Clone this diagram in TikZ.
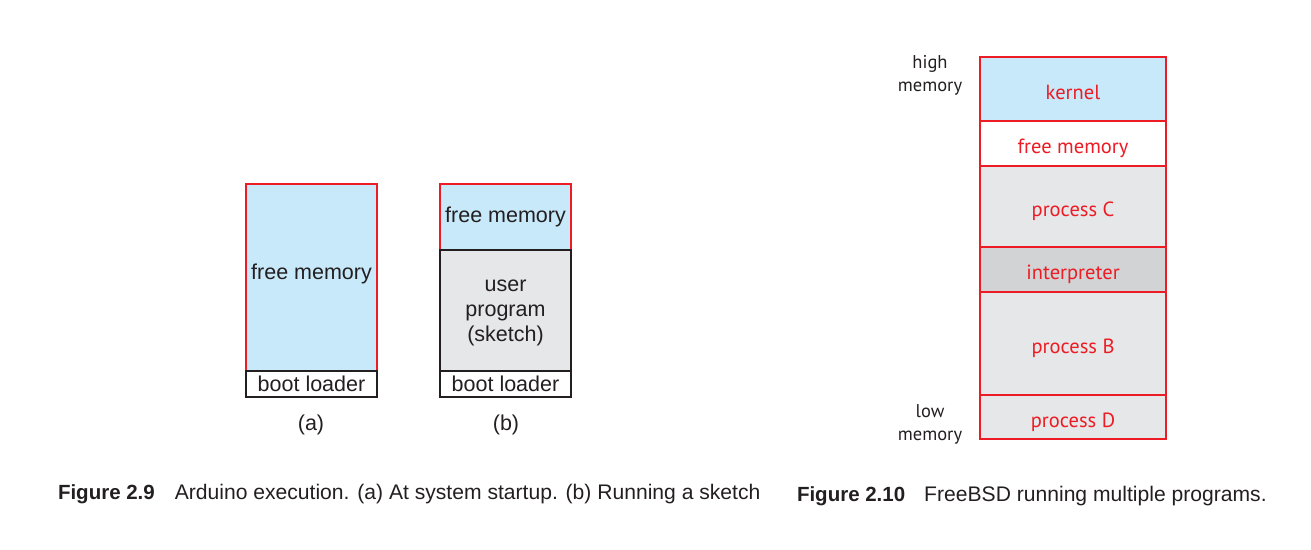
\documentclass[tikz,border=0pt]{standalone}
\usepackage{fontspec}
\setmainfont{Liberation Sans}
\newfontfamily\humfont{PT Sans}
\usetikzlibrary{positioning}
\definecolor{memblue}{HTML}{C8E9FA}
\definecolor{memgray}{HTML}{E6E7E8}
\definecolor{memdark}{HTML}{D1D3D4}
\definecolor{memred}{HTML}{ED1C24}
\definecolor{memtext}{HTML}{231F20}

\begin{document}
\begin{tikzpicture}[x=1pt, y=-1pt,
    every node/.style={inner sep=0pt, outer sep=0pt, text=memtext},
    seg/.style={draw=memtext, line width=1.3pt, fill=white, align=center,
      font=\fontsize{21.5}{25}\selectfont},
    arduino/.style={seg, minimum width=131pt},
    bsd/.style={seg, draw=memred, minimum width=186pt, text=memred,
      text height=20pt, text depth=0pt,
      font=\humfont\fontsize{20.5}{24}\selectfont},
    side/.style={align=center, font=\humfont\fontsize{18.5}{23}\selectfont},
    caption/.style={anchor=base west, font=\fontsize{21.1}{25}\selectfont}]
  \useasboundingbox (0,0) rectangle (1311,549);

  % (a) at system startup
  \node [arduino, draw=memred, fill=memblue, minimum height=187pt, text depth=12pt, anchor=north west] (freeA) at (246,184) {free memory};
  \node [arduino, minimum height=26pt, below=0pt of freeA] (bootA) {boot loader};
  \node (labA) at (311,425) [font=\fontsize{21.5}{25}\selectfont] {(a)};

  % (b) running a sketch
  \node [arduino, draw=memred, fill=memblue, minimum height=66pt, anchor=north west] (freeB) at (440,184) {free memory};
  \node [arduino, fill=memgray, minimum height=121pt, text depth=0pt, below=0pt of freeB] (user) {user\\program\\(sketch)};
  \node [arduino, minimum height=26pt, below=0pt of user] (bootB) {boot loader};
  \node (labB) at (506,425) [font=\fontsize{21.5}{25}\selectfont] {(b)};

  % FreeBSD memory layout
  \node [bsd, fill=memblue, minimum height=64pt, anchor=north west] (kernel) at (980,57) {kernel};
  \node [bsd, minimum height=45pt, below=0pt of kernel] (free) {free memory};
  \node [bsd, fill=memgray, minimum height=81pt, below=0pt of free] (procC) {process C};
  \node [bsd, fill=memdark, minimum height=45pt, below=0pt of procC] (interp) {interpreter};
  \node [bsd, fill=memgray, minimum height=103pt, below=0pt of interp] (procB) {process B};
  \node [bsd, fill=memgray, minimum height=44pt, below=0pt of procB] (procD) {process D};
  \node [side] (high) at (930,75) {high\\memory};
  \node [side] (low) at (930,424) {low\\memory};

  % captions
  \node [caption] (capA) at (58,499) {{\fontsize{20.5}{25}\selectfont\bfseries Figure 2.9}\hspace{20pt}Arduino execution. (a) At system startup. (b) Running a sketch};
  \node [caption] (capB) at (797,501) {{\fontsize{20.5}{25}\selectfont\bfseries Figure 2.10}\hspace{19pt}FreeBSD running multiple programs.};
\end{tikzpicture}
\end{document}
